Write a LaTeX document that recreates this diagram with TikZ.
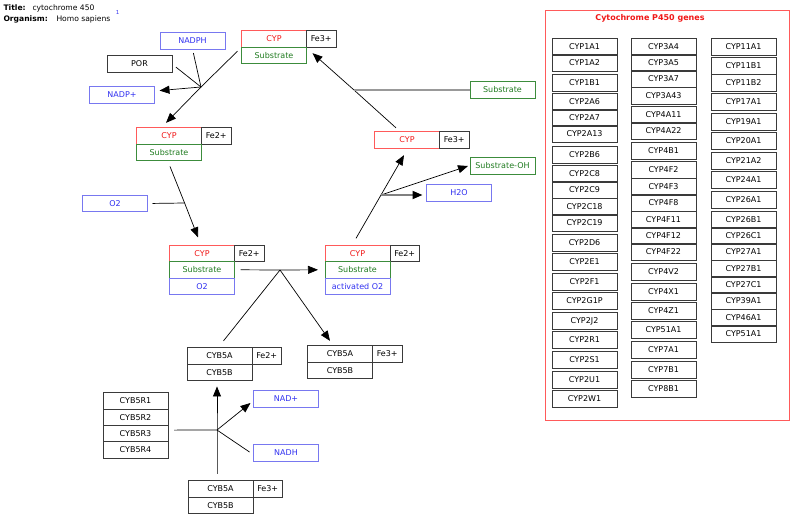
\documentclass[tikz,border=0pt]{standalone}
\usepackage{fontspec}
\setmainfont{DejaVu Sans}
\usepackage{xcolor}
\usetikzlibrary{arrows.meta,positioning}

\definecolor{cypred}{HTML}{F01818}
\definecolor{cypedge}{HTML}{FF5A5A}
\definecolor{subgreen}{HTML}{1E7A1E}
\definecolor{subedge}{HTML}{3C8C3C}
\definecolor{molblue}{HTML}{3030F0}
\definecolor{moledge}{HTML}{7878F0}
\definecolor{boxedge}{HTML}{3A3A3A}

\begin{document}
\begin{tikzpicture}[x=1pt, y=-1pt,
    >={Triangle[length=10pt,width=8pt]},
    every node/.style={font=\fontsize{8}{9}\selectfont},
    box/.style={rectangle, draw=boxedge, line width=0.8pt, minimum width=65pt, minimum height=16.3pt, inner sep=0pt, outer sep=0pt},
    cyp/.style={box, draw=cypedge, text=cypred},
    sub/.style={box, draw=subedge, text=subgreen},
    mol/.style={box, draw=moledge, text=molblue},
    ion/.style={box, minimum width=29.5pt},
    link/.style={line width=0.7pt}]
    \useasboundingbox (0,0) rectangle (800,525);

    % header
    \node[anchor=west, font=\bfseries\fontsize{7.6}{9}\selectfont] (ttl) at (0,8) {Title:};
    \node[anchor=west, font=\fontsize{7.6}{9}\selectfont] (ttlval) at (29,8) {cytochrome 450};
    \node[text=molblue, font=\fontsize{5.5}{6}\selectfont] (ref) at (117.5,12) {1};
    \node[anchor=west, font=\bfseries\fontsize{7.6}{9}\selectfont] (org) at (0,19.5) {Organism:};
    \node[anchor=west, font=\fontsize{7.6}{9}\selectfont] (orgval) at (53,19.5) {Homo sapiens};

    % CYP complexes
    \node[cyp] (cypA) at (274,39) {CYP};
    \node[ion, right=0pt of cypA] (feA) {Fe3+};
    \node[sub, below=0pt of cypA] (subA) {Substrate};

    \node[cyp] (cypB) at (169,136) {CYP};
    \node[ion, right=0pt of cypB] (feB) {Fe2+};
    \node[sub, below=0pt of cypB] (subB) {Substrate};

    \node[cyp] (cypC) at (202,253.5) {CYP};
    \node[ion, right=0pt of cypC] (feC) {Fe2+};
    \node[sub, below=0pt of cypC] (subC) {Substrate};
    \node[mol, below=0pt of subC] (oxC) {O2};

    \node[cyp] (cypD) at (357.5,253.5) {CYP};
    \node[ion, right=0pt of cypD] (feD) {Fe2+};
    \node[sub, below=0pt of cypD] (subD) {Substrate};
    \node[mol, below=0pt of subD] (aoxD) {activated O2};

    \node[cyp] (cypE) at (407,140) {CYP};
    \node[ion, right=0pt of cypE] (feE) {Fe3+};

    % cytochrome b5
    \node[box] (cybL) at (219.5,356) {CYB5A};
    \node[ion, right=0pt of cybL] (cybLfe) {Fe2+};
    \node[box, below=0pt of cybL] (cybLb) {CYB5B};

    \node[box] (cybR) at (340,354) {CYB5A};
    \node[ion, right=0pt of cybR] (cybRfe) {Fe3+};
    \node[box, below=0pt of cybR] (cybRb) {CYB5B};

    \node[box] (cybO) at (220.5,489) {CYB5A};
    \node[ion, right=0pt of cybO] (cybOfe) {Fe3+};
    \node[box, below=0pt of cybO] (cybOb) {CYB5B};

    \node[box] (red1) at (135.5,401) {CYB5R1};
    \node[box, below=0pt of red1] (red2) {CYB5R2};
    \node[box, below=0pt of red2] (red3) {CYB5R3};
    \node[box, below=0pt of red3] (red4) {CYB5R4};

    % small molecules
    \node[mol] (nadph) at (192.5,41) {NADPH};
    \node[box] (por) at (139.5,64) {POR};
    \node[mol] (nadpp) at (122,95) {NADP+};
    \node[mol] (o2) at (115,203.5) {O2};
    \node[sub] (subR) at (502.5,90) {Substrate};
    \node[sub] (subOH) at (502.5,166) {Substrate-OH};
    \node[mol] (h2o) at (459,193) {H2O};
    \node[mol] (nadp) at (286,399) {NAD+};
    \node[mol] (nadh) at (286,453) {NADH};

    % reaction points
    \coordinate (r1) at (201,87);
    \coordinate (r2) at (184.6,203);
    \coordinate (r3) at (280,270);
    \coordinate (r4) at (381,195);
    \coordinate (r5) at (354,90);
    \coordinate (r6) at (217,430);

    % reactions
    \draw[link, ->] ([shift={(-4pt,-4pt)}]subA.north west) -- (r1) -- ([shift={(-3pt,5pt)}]cypB.north);
    \draw[link, shorten <=5pt] (por.east) -- (r1);
    \draw[link, shorten <=4pt] (nadph.south) -- (r1);
    \draw[link, ->, shorten >=5pt] (r1) -- ([yshift=4pt]nadpp.east);

    \draw[link, ->] ([shift={(1pt,-6pt)}]subB.south) -- (r2) -- ([shift={(-4pt,8pt)}]cypC.north);
    \draw[link, shorten <=5pt] (o2.east) -- (r2);

    \draw[link, ->] ([xshift=6pt]subC.east) -- (r3) -- ([xshift=-7pt]subD.west);
    \draw[link] ([shift={(4pt,7pt)}]cybL.north) -- (r3);
    \draw[link, ->] (r3) -- ([shift={(-10pt,5pt)}]cybR.north);

    \draw[link, ->] ([shift={(-1.5pt,7pt)}]cypD.north) -- (r4) -- ([shift={(-3pt,-7pt)}]cypE.south);
    \draw[link, ->] (r4) -- ([xshift=-2pt]subOH.west);
    \draw[gray, line width=1.8pt, -{Triangle[length=10pt,width=8pt,black]}] (r4) -- ([shift={(-4pt,-2pt)}]h2o.west);

    \draw[link, ->] ([shift={(-11pt,4pt)}]cypE.north) -- (r5) -- ([shift={(6pt,-6pt)}]feA.south west);
    \draw[gray!80, line width=1.2pt] (subR.west) -- (r5);

    \draw[link, ->] ([shift={(-3.5pt,7pt)}]cybO.north) -- (r6) -- ([shift={(-2.5pt,-6pt)}]cybLb.south);
    \draw[link] ([shift={(6pt,3.5pt)}]red3.east) -- (r6);
    \draw[link, ->] (r6) -- ([shift={(-3pt,-4pt)}]nadp.west);
    \draw[link] ([shift={(-4pt,1pt)}]nadh.west) -- (r6);

    % gene list
    \draw[cypedge, line width=1pt] (545,10) rectangle (789,420);
    \node[text=cypred, font=\bfseries\fontsize{8}{9}\selectfont] (genes) at (650,18) {Cytochrome P450 genes};
    \foreach \gname/\gy in {CYP1A1/47, CYP1A2/63, CYP1B1/83, CYP2A6/102, CYP2A7/118, CYP2A13/134,
        CYP2B6/155, CYP2C8/174, CYP2C9/190, CYP2C18/207, CYP2C19/223, CYP2D6/243, CYP2E1/262,
        CYP2F1/282, CYP2G1P/301, CYP2J2/321, CYP2R1/340, CYP2S1/360, CYP2U1/380, CYP2W1/399}
        \node[box] (ga-\gname) at (584.5,\gy) {\gname};
    \foreach \gname/\gy in {CYP3A4/47, CYP3A5/63, CYP3A7/79, CYP3A43/96, CYP4A11/115, CYP4A22/131,
        CYP4B1/151, CYP4F2/170, CYP4F3/187, CYP4F8/203, CYP4F11/220, CYP4F12/236, CYP4F22/252,
        CYP4V2/272, CYP4X1/292, CYP4Z1/311, CYP51A1/330, CYP7A1/350, CYP7B1/370, CYP8B1/389}
        \node[box] (gb-\gname) at (663.5,\gy) {\gname};
    \foreach \gname/\gy in {CYP11A1/47, CYP11B1/66, CYP11B2/83, CYP17A1/102, CYP19A1/122, CYP20A1/141,
        CYP21A2/161, CYP24A1/180, CYP26A1/200, CYP26B1/220, CYP26C1/236, CYP27A1/252, CYP27B1/269,
        CYP27C1/285, CYP39A1/301, CYP46A1/318, CYP51A1/334}
        \node[box] (gc-\gname) at (743.5,\gy) {\gname};
\end{tikzpicture}
\end{document}
